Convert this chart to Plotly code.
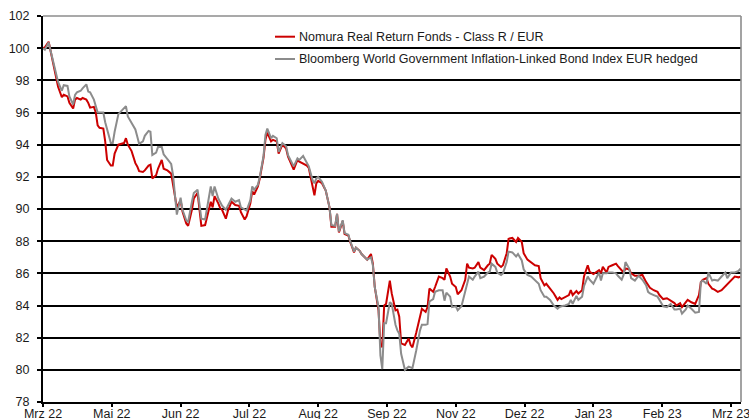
import plotly.graph_objects as go
from datetime import datetime, timedelta

# Day offsets from the start date
days = [0, 1, 3, 5, 7, 8, 10, 11, 13, 14, 16, 17, 18, 20, 21, 23, 24, 25, 27, 28,
        29, 30, 32, 33, 34, 36, 37, 38, 40, 42, 43, 44, 45, 47, 49, 50, 51, 53, 54, 56,
        57, 58, 60, 61, 63, 64, 65, 66, 68, 69, 71, 73, 74, 76, 77, 79, 80, 82, 83, 84,
        86, 87, 89, 90, 91, 93, 94, 95, 97, 98, 100, 102, 104, 105, 107, 108, 110, 111, 112, 114,
        115, 117, 118, 119, 121, 122, 124, 125, 127, 129, 130, 133, 135, 136, 138, 140, 141, 143, 144, 145,
        146, 148, 150, 152, 153, 155, 156, 157, 159, 160, 162, 163, 165, 166, 168, 169, 171, 172, 174, 175,
        176, 178, 179, 180, 181, 182, 184, 185, 187, 188, 189, 190, 192, 194, 195, 196, 198, 199, 200, 201,
        203, 204, 205, 207, 208, 210, 212, 213, 214, 216, 217, 219, 220, 222, 224, 225, 226, 228, 229, 231,
        232, 234, 236, 237, 238, 240, 241, 243, 244, 246, 247, 249, 251, 252, 254, 255, 257, 259, 261, 263,
        264, 266, 267, 269, 271, 273, 274, 275, 277, 279, 280, 281, 283, 284, 286, 287, 289, 290, 292, 293,
        295, 296, 297, 299, 300, 302, 304, 305, 307, 308, 309, 311, 312, 314, 316, 318, 320, 321, 322, 324,
        326, 327, 329, 331, 333, 335, 336, 338, 339, 341, 342, 344, 346, 348, 349, 350, 352, 353, 355, 356,
        358, 360, 362, 363, 365, 367, 369, 370]

nomura = [100.0, 100.05, 100.4, 99.35, 98.3, 97.6, 96.95, 97.1, 97.0, 96.6, 96.25, 96.8, 96.9, 96.8, 96.9, 96.8, 96.6, 96.3, 96.35, 96.0,
          95.2, 95.05, 95.0, 94.2, 93.05, 92.7, 92.7, 93.45, 94.0, 94.1, 94.1, 94.4, 94.0, 93.6, 92.85, 92.65, 92.35, 92.3, 92.4, 92.7,
          92.75, 91.9, 92.1, 92.5, 93.05, 92.5, 92.45, 92.4, 92.2, 91.5, 90.1, 90.55, 89.85, 89.1, 88.95, 89.95, 90.65, 91.0, 89.95, 88.95,
          89.0, 89.5, 90.45, 90.1, 90.8, 90.35, 90.05, 89.95, 89.4, 89.85, 90.45, 90.25, 90.2, 89.8, 89.35, 89.55, 90.35, 91.1, 90.9, 91.4,
          91.9, 93.2, 94.3, 94.75, 94.2, 94.3, 94.2, 93.45, 94.0, 93.75, 93.25, 92.45, 93.05, 92.95, 92.85, 92.7, 92.55, 91.4, 90.85, 91.6,
          91.75, 91.6, 91.15, 90.1, 88.9, 88.9, 89.7, 88.55, 89.25, 88.45, 88.35, 87.95, 87.3, 87.6, 87.4, 87.2, 87.0, 86.85, 87.2, 86.6,
          85.15, 83.7, 81.6, 81.4, 84.0, 84.1, 85.55, 84.75, 83.7, 83.75, 83.3, 81.65, 81.55, 81.95, 81.55, 81.4, 82.3, 82.8, 83.2, 83.8,
          83.6, 83.9, 85.05, 84.85, 85.15, 85.8, 85.7, 85.6, 86.3, 85.8, 85.35, 85.15, 84.7, 84.95, 85.6, 86.6, 86.35, 86.3, 86.35, 86.7,
          86.35, 86.2, 86.5, 86.6, 87.15, 86.9, 86.6, 86.4, 86.5, 87.25, 88.15, 88.2, 87.95, 88.2, 87.95, 87.25, 86.85, 86.65, 86.5, 86.45,
          85.7, 85.25, 85.35, 85.05, 84.75, 84.35, 84.5, 84.4, 84.5, 84.65, 84.95, 84.65, 84.9, 84.75, 84.95, 85.8, 86.5, 86.1, 85.95, 86.05,
          86.2, 86.0, 86.4, 86.05, 86.4, 86.5, 86.6, 86.45, 86.2, 86.05, 86.3, 86.25, 86.0, 85.85, 85.85, 85.9, 85.45, 85.25, 85.1, 84.95,
          84.85, 84.65, 84.4, 84.45, 84.3, 84.15, 84.0, 84.15, 83.9, 84.2, 84.35, 84.2, 84.1, 84.65, 85.45, 85.6, 85.7, 85.35, 85.05, 85.0,
          84.85, 84.95, 85.2, 85.35, 85.55, 85.8, 85.75, 85.8]

bloomberg = [100.0, 99.9, 100.35, 99.35, 98.2, 97.9, 97.35, 97.7, 97.65, 97.0, 96.5, 97.1, 97.25, 97.35, 97.5, 97.75, 97.3, 97.25, 96.8, 96.3,
             96.0, 96.0, 96.0, 95.4, 94.9, 94.1, 94.1, 94.8, 95.9, 96.15, 96.25, 96.4, 95.75, 95.3, 94.95, 94.5, 94.05, 94.2, 94.55, 94.85,
             94.8, 93.35, 93.5, 93.85, 93.85, 93.4, 93.25, 93.05, 92.8, 92.1, 89.65, 90.7, 89.95, 89.3, 89.2, 90.45, 91.0, 91.2, 90.35, 89.4,
             89.35, 90.05, 91.4, 90.8, 91.4, 90.65, 90.45, 90.2, 89.95, 90.2, 90.65, 90.45, 90.55, 90.1, 89.95, 89.9, 90.55, 91.4, 91.2, 91.5,
             92.0, 93.3, 94.6, 95.0, 94.4, 94.55, 94.4, 93.55, 94.1, 93.9, 93.35, 92.65, 93.15, 93.05, 93.3, 92.9, 92.65, 91.8, 91.6, 91.9,
             92.0, 91.7, 91.15, 90.1, 89.0, 88.95, 89.7, 88.6, 89.3, 88.5, 88.4, 88.0, 87.35, 87.6, 87.4, 87.2, 87.0, 86.85, 87.0, 86.5,
             85.15, 83.9, 80.9, 80.05, 82.9, 82.9, 84.2, 84.1, 82.8, 82.45, 82.25, 81.0, 80.0, 80.2, 80.15, 80.1, 81.2, 81.95, 82.45, 82.8,
             82.8, 82.85, 84.25, 84.4, 84.85, 84.95, 84.95, 84.3, 84.8, 84.55, 83.9, 83.95, 83.7, 83.95, 84.95, 85.45, 85.8, 85.6, 85.8, 86.1,
             85.7, 85.8, 86.05, 86.1, 86.6, 86.4, 86.05, 85.9, 86.0, 86.7, 87.35, 87.3, 87.05, 87.2, 86.8, 86.25, 85.9, 85.8, 85.6, 85.35,
             84.95, 84.55, 84.55, 84.35, 84.0, 83.8, 83.9, 83.95, 84.0, 84.1, 84.35, 84.1, 84.6, 84.35, 84.55, 85.2, 85.8, 85.6, 85.35, 85.6,
             86.05, 85.55, 86.0, 86.0, 86.05, 86.05, 86.0, 85.85, 85.6, 85.9, 86.7, 86.3, 85.7, 85.55, 85.85, 85.6, 85.25, 84.85, 84.75, 84.65,
             84.55, 84.35, 83.95, 83.9, 84.1, 83.75, 83.75, 83.8, 83.5, 83.75, 84.0, 83.8, 83.55, 83.6, 85.45, 85.55, 85.35, 86.05, 85.55, 85.6,
             85.55, 85.8, 86.05, 85.7, 86.05, 86.05, 86.15, 86.3]

series_names = ["Nomura Real Return Fonds - Class R / EUR",
                "Bloomberg World Government Inflation-Linked Bond Index EUR hedged"]
tick_labels = ["Mrz 22", "Mai 22", "Jun 22", "Jul 22", "Aug 22", "Sep 22",
               "Nov 22", "Dez 22", "Jan 23", "Feb 23", "Mrz 23"]
y_ticks = list(range(78, 103, 2))

start = datetime(2022, 3, 31)
tick_step_days = 36.5
axis_span_days = 370.3

dates = [start + timedelta(days=d) for d in days]
tickvals = [start + timedelta(days=tick_step_days * k) for k in range(len(tick_labels))]

RED = "#CC0000"
GREY = "#8C8C8C"
FONT = "Liberation Sans, Arial, sans-serif"

fig = go.Figure()
fig.add_trace(go.Scatter(x=dates, y=nomura, mode="lines", name=series_names[0],
                         line=dict(color=RED, width=2), showlegend=False))
fig.add_trace(go.Scatter(x=dates, y=bloomberg, mode="lines", name=series_names[1],
                         line=dict(color=GREY, width=2), showlegend=False))

ML, MR, MT, MB = 43, 8, 16, 17
W, H = 749, 419
pw, ph = W - ML - MR, H - MT - MB

def px_x(p):
    return (p - ML) / pw

def px_y(p):
    return (H - MB - p) / ph

shapes = [
    # top and right border (grey)
    dict(type="line", xref="paper", yref="paper", x0=0, x1=1, y0=1, y1=1,
         line=dict(color="#8C8C8C", width=1.6), layer="above"),
    dict(type="line", xref="paper", yref="paper", x0=1, x1=1, y0=0, y1=1,
         line=dict(color="#8C8C8C", width=1.6), layer="above"),
]
annotations = []
legend_rows = [(36.7, RED, series_names[0]), (59.0, GREY, series_names[1])]
for py, col, name in legend_rows:
    shapes.append(dict(type="line", xref="paper", yref="paper",
                       x0=px_x(275), x1=px_x(295), y0=px_y(py), y1=px_y(py),
                       line=dict(color=col, width=2), layer="above"))
    annotations.append(dict(xref="paper", yref="paper", x=px_x(296.5), y=px_y(py),
                            text=name, showarrow=False, xanchor="left", yanchor="middle",
                            font=dict(family=FONT, size=12.5, color="#1a1a1a")))

fig.update_layout(
    width=W, height=H, autosize=False,
    margin=dict(l=ML, r=MR, t=MT, b=MB, pad=0, autoexpand=False),
    paper_bgcolor="white", plot_bgcolor="white",
    font=dict(family=FONT, size=12.5, color="#1a1a1a"),
    shapes=shapes, annotations=annotations,
    showlegend=False,
)
fig.update_xaxes(
    type="date", automargin=False,
    range=[start, start + timedelta(days=axis_span_days)],
    tickvals=tickvals, ticktext=tick_labels,
    ticklabeloverflow="allow",
    showgrid=False, zeroline=False,
    showline=True, linecolor="black", linewidth=2,
    ticks="outside", ticklen=3, tickwidth=1.5, tickcolor="black",
    ticklabelstandoff=-4,
    tickfont=dict(family=FONT, size=12.5, color="#1a1a1a"),
)
fig.update_yaxes(
    automargin=False,
    range=[78, 102], tickvals=y_ticks,
    showgrid=True, gridcolor="black", gridwidth=1.6,
    zeroline=False,
    showline=True, linecolor="black", linewidth=2,
    ticks="outside", ticklen=4, tickwidth=1.5, tickcolor="black",
    ticklabelstandoff=5,
    tickfont=dict(family=FONT, size=12.5, color="#1a1a1a"),
)

fig.write_html("out.html", config={"displayModeBar": False},
               post_script="document.body.style.margin='0';document.body.style.padding='0';")
